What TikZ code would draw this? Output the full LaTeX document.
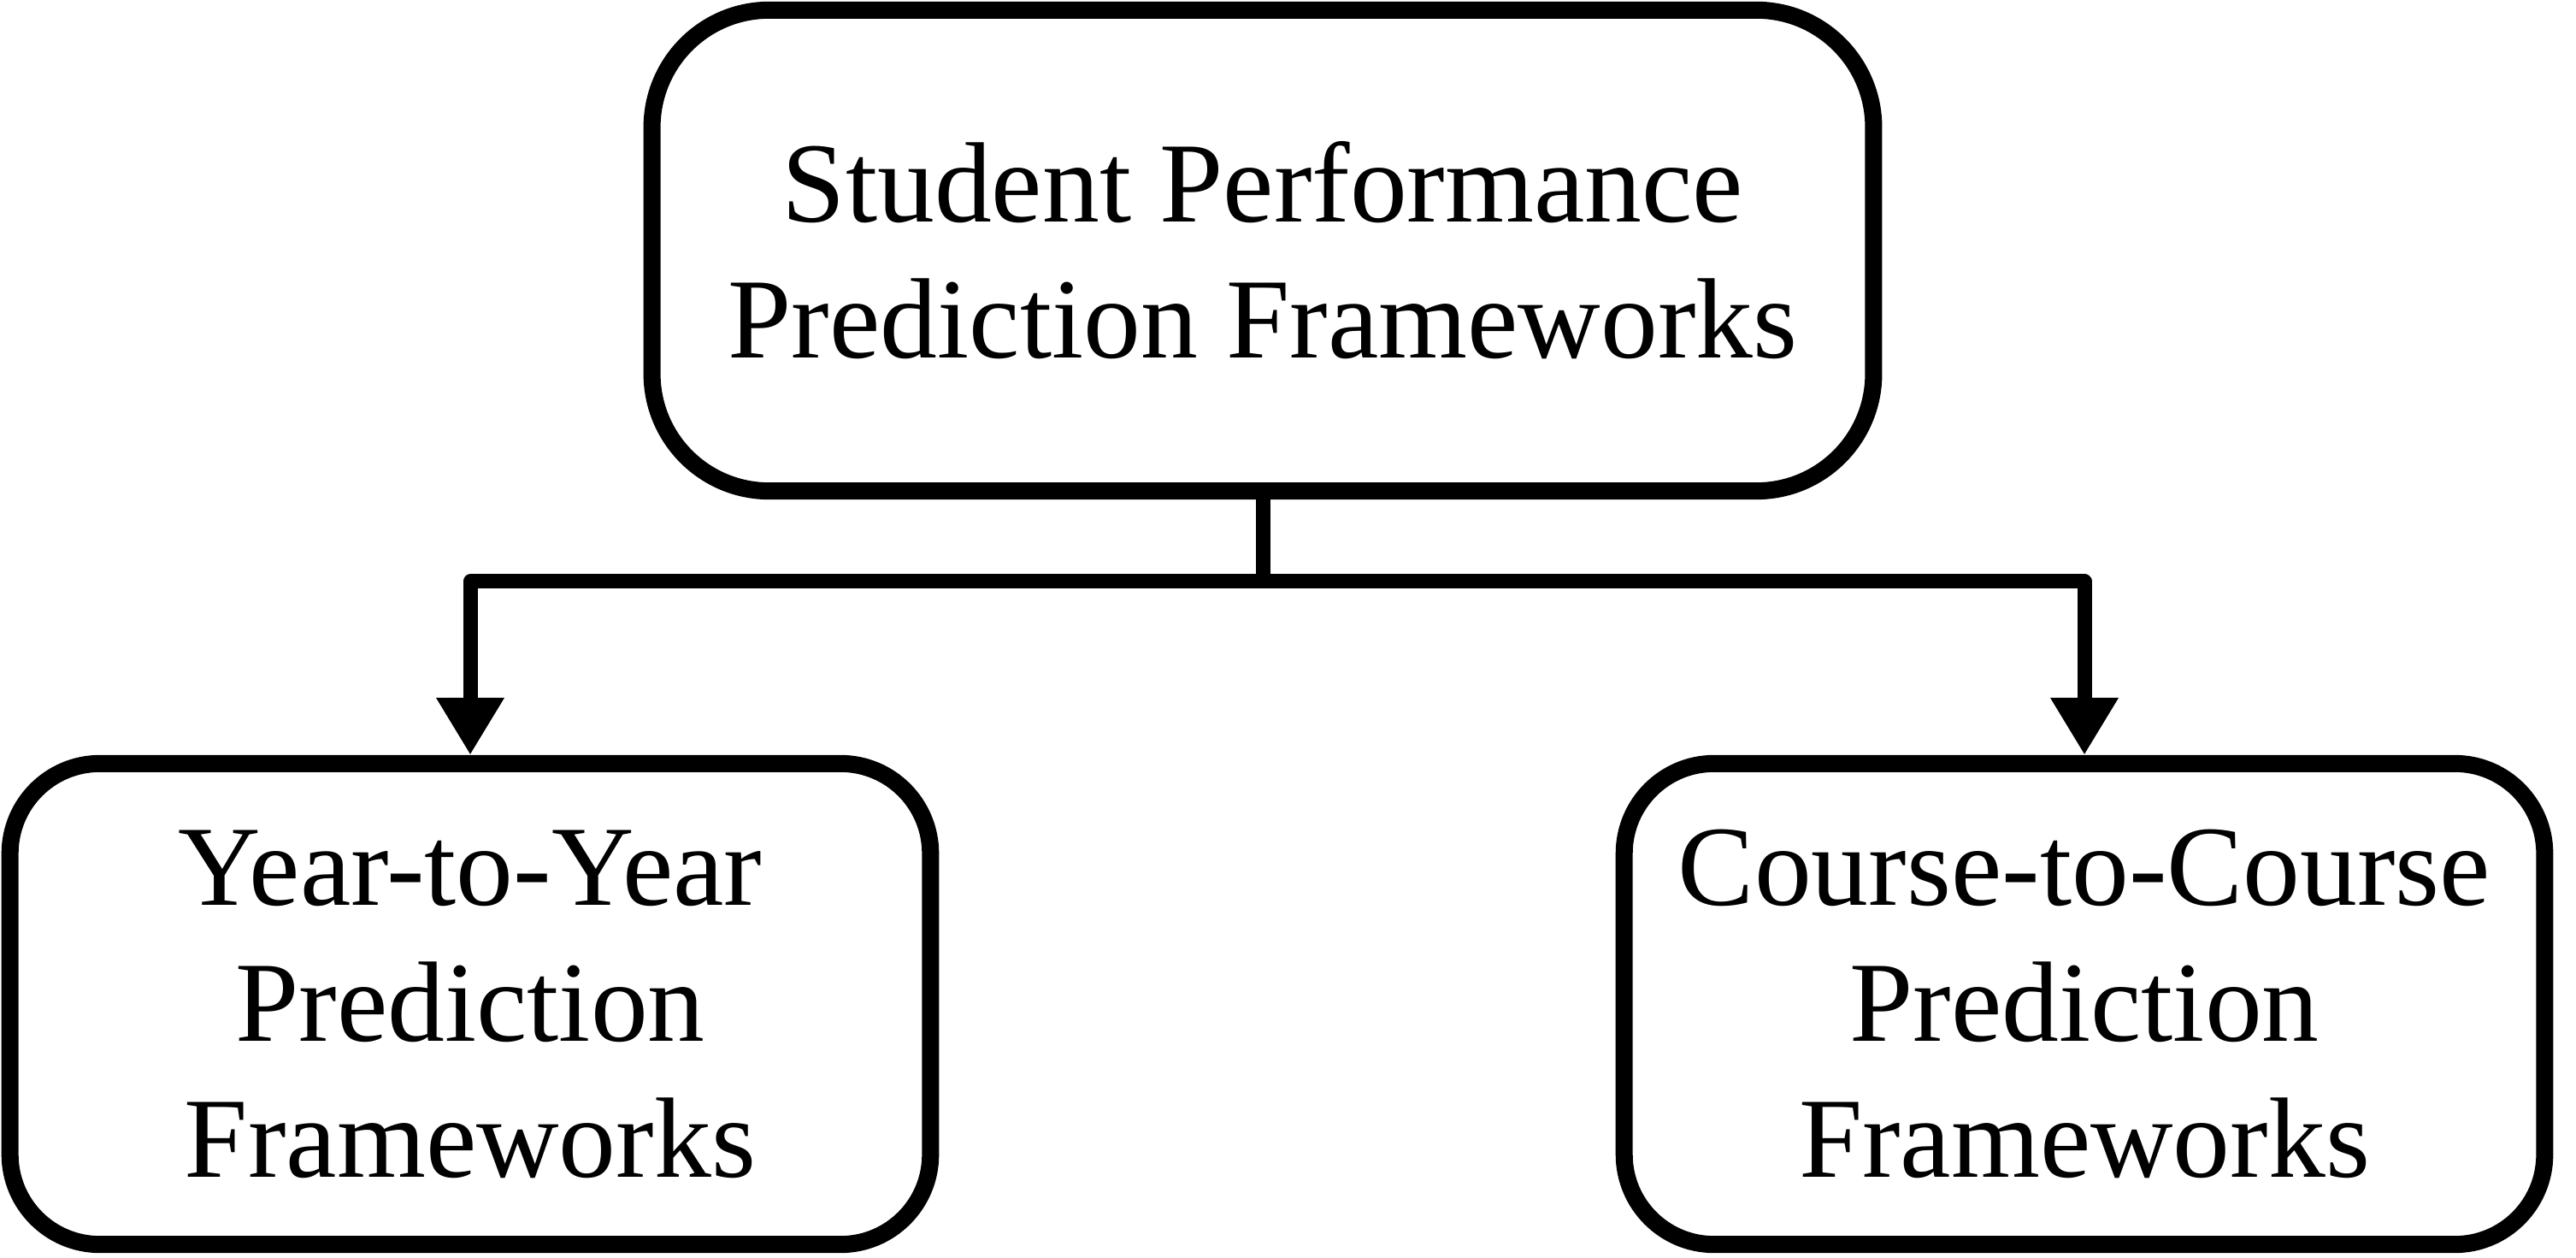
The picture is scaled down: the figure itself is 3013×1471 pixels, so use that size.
\documentclass[tikz,border=0pt]{standalone}
\usepackage{fontspec}
\setmainfont{Liberation Serif}
\usetikzlibrary{arrows.meta,positioning}
\tikzset{
  every picture/.style={font=\fontsize{38}{45.2}\selectfont},
  box/.style={draw,line width=2mm,align=center,inner sep=0pt,
    minimum width=10.76cm,minimum height=5.62cm,rounded corners=1.05cm},
  topbox/.style={box,minimum width=14.28cm,rounded corners=1.37cm},
  link/.style={line width=1.7mm,line join=round},
  tip/.style={link,-{Triangle[width=7.5mm,length=6.7mm]}},
}
\begin{document}
\begin{tikzpicture}[x=0.01cm,y=-0.01cm]
  \useasboundingbox (0,0) rectangle (3013,1471);
  % boxes
  \node[topbox] (spp) at (1477,293) {Student Performance\\Prediction Frameworks};
  \node[box] (yty) at (550,1174) {Year-to-Year\\Prediction\\Frameworks};
  \node[box] (ctc) at (2438,1174) {Course-to-Course\\Prediction\\Frameworks};
  % tree
  \coordinate (fork) at (1477,680);
  \draw[link] (spp.south) -- (fork);
  \draw[tip] (fork) -| (yty.north);
  \draw[tip] (fork) -| (ctc.north);
\end{tikzpicture}
\end{document}
